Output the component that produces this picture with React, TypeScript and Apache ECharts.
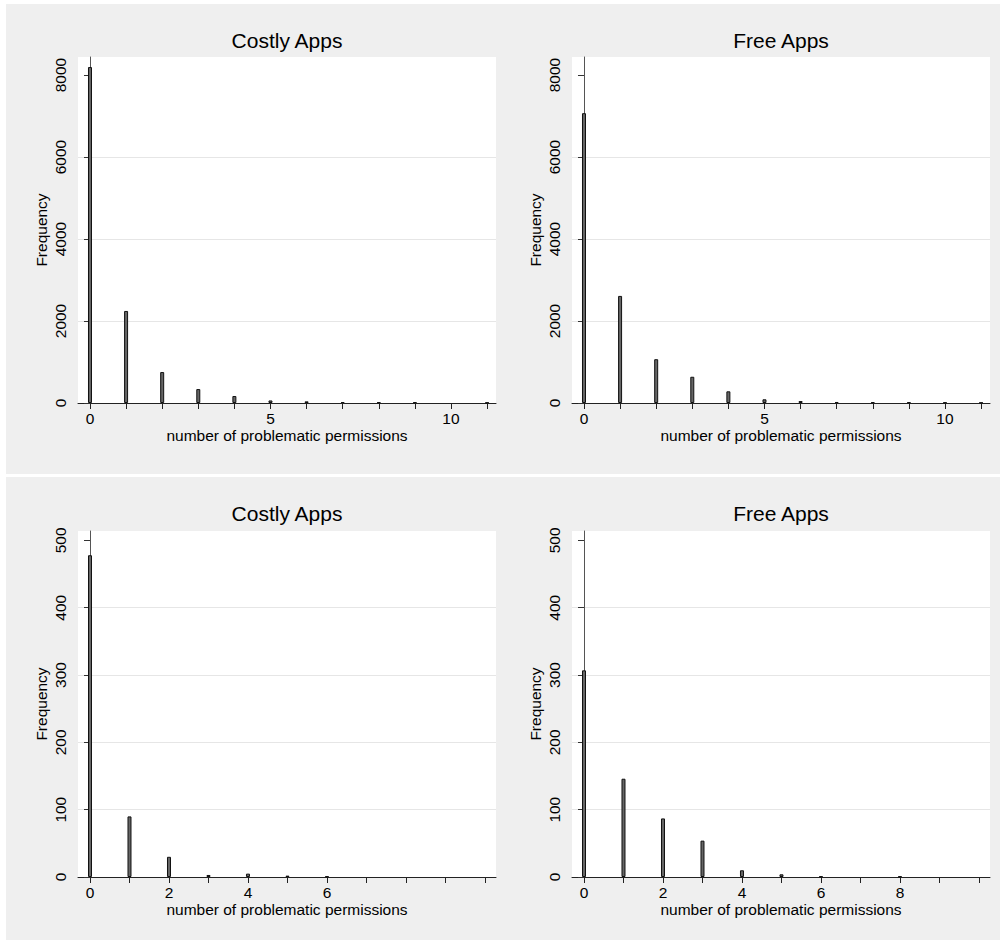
import React, { useEffect, useRef } from "react";
import * as echarts from "echarts";

// ---- data ----
const panelTitles = ["Costly Apps", "Free Apps", "Costly Apps", "Free Apps"];
const xAxisName = "number of problematic permissions";
const yAxisName = "Frequency";

const costlyAllX = [0, 1, 2, 3, 4, 5, 6, 7, 8, 9, 11];
const costlyAllY = [8195, 2245, 755, 340, 170, 62, 40, 24, 18, 18, 12];
const freeAllX = [0, 1, 2, 3, 4, 5, 6, 7, 8, 9, 10, 11];
const freeAllY = [7070, 2612, 1068, 640, 285, 90, 48, 25, 22, 18, 14, 10];
const costlySubX = [0, 1, 2, 3, 4, 5, 6];
const costlySubY = [478, 90, 30, 3, 5, 2, 1];
const freeSubX = [0, 1, 2, 3, 4, 5, 6, 8];
const freeSubY = [307, 146, 87, 54, 10, 4, 1, 1];

const topYTicks = [0, 2000, 4000, 6000, 8000];
const bottomYTicks = [0, 100, 200, 300, 400, 500];
const topXTicks = [0, 1, 2, 3, 4, 5, 6, 7, 8, 9, 10, 11];
const topXLabels = [0, 5, 10];
const bottomXTicks = [0, 1, 2, 3, 4, 5, 6, 7, 8, 9, 10];
const bottomLeftXLabels = [0, 2, 4, 6];
const bottomRightXLabels = [0, 2, 4, 6, 8];

const FONT = "'Liberation Sans', Arial, Helvetica, sans-serif";

export default function App() {
  const ref = useRef<HTMLDivElement>(null);

  useEffect(() => {
    if (!ref.current) return;
    const chart = echarts.init(ref.current, undefined, { renderer: "svg" });

    const panels = [
      { left: 78, top: 57, xs: costlyAllX, ys: costlyAllY, xmin: -0.332, xmax: 11.247, ymax: 8440, yTicks: topYTicks, xTicks: topXTicks, xLabels: topXLabels },
      { left: 572, top: 57, xs: freeAllX, ys: freeAllY, xmin: -0.332, xmax: 11.247, ymax: 8440, yTicks: topYTicks, xTicks: topXTicks, xLabels: topXLabels },
      { left: 78, top: 531, xs: costlySubX, ys: costlySubY, xmin: -0.304, xmax: 10.28, ymax: 514, yTicks: bottomYTicks, xTicks: bottomXTicks, xLabels: bottomLeftXLabels },
      { left: 572, top: 531, xs: freeSubX, ys: freeSubY, xmin: -0.304, xmax: 10.28, ymax: 514, yTicks: bottomYTicks, xTicks: bottomXTicks, xLabels: bottomRightXLabels },
    ];
    const W = 418;
    const H = 346;

    const grid = panels.map((p) => ({
      left: p.left,
      top: p.top,
      width: W,
      height: H,
      show: true,
      backgroundColor: "#ffffff",
      borderWidth: 0,
      containLabel: false,
    }));

    const xAxis = panels.map((p, i) => ({
      type: "value",
      gridIndex: i,
      min: p.xmin,
      max: p.xmax,
      name: xAxisName,
      nameLocation: "middle",
      nameGap: 24,
      nameTextStyle: { fontSize: 15.5, color: "#000", fontFamily: FONT },
      axisLine: { show: true, onZero: false, lineStyle: { color: "#222", width: 1 } },
      axisTick: { show: true, length: 6, inside: false, customValues: p.xTicks, lineStyle: { color: "#222" } },
      axisLabel: { show: true, customValues: p.xLabels, margin: 7, fontSize: 15.5, color: "#000", fontFamily: FONT, formatter: (v: number) => String(v) },
      splitLine: { show: false },
    }));

    const yAxis = panels.map((p, i) => ({
      type: "value",
      gridIndex: i,
      min: 0,
      max: p.ymax,
      interval: p.yTicks[1] - p.yTicks[0],
      name: yAxisName,
      nameLocation: "middle",
      nameGap: 29,
      nameTextStyle: { fontSize: 15.5, color: "#000", fontFamily: FONT },
      axisLine: { show: true, lineStyle: { color: "#555", width: 1 } },
      axisTick: { show: true, length: 6, customValues: p.yTicks, lineStyle: { color: "#333" } },
      axisLabel: { show: true, customValues: p.yTicks, rotate: 90, margin: 10, fontSize: 15.5, color: "#000", fontFamily: FONT, formatter: (v: number) => String(v) },
      splitLine: { show: true, showMinLine: false, showMaxLine: false, lineStyle: { color: "#e6e6e6", width: 1 } },
    }));

    const series = panels.map((p, i) => ({
      type: "bar",
      xAxisIndex: i,
      yAxisIndex: i,
      barWidth: 4,
      data: p.xs.map((x, k) => [x, p.ys[k]]),
      itemStyle: { color: "#666666", borderColor: "#111111", borderWidth: 1 },
      silent: true,
    }));

    const graphic: any[] = [
      { type: "rect", z: -100, shape: { x: 6, y: 4, width: 994, height: 470 }, style: { fill: "#efefef" }, silent: true },
      { type: "rect", z: -100, shape: { x: 6, y: 477, width: 994, height: 463 }, style: { fill: "#efefef" }, silent: true },
    ];
    const titleY = [40, 40, 513, 513];
    panels.forEach((p, i) => {
      graphic.push({
        type: "text",
        x: p.left + W / 2,
        y: titleY[i],
        z: 10,
        silent: true,
        style: {
          text: panelTitles[i],
          fill: "#000",
          fontSize: 21,
          fontFamily: FONT,
          align: "center",
          verticalAlign: "middle",
        },
      });
    });

    chart.setOption({
      animation: false,
      backgroundColor: "#ffffff",
      grid,
      xAxis,
      yAxis,
      series,
      graphic,
    } as any);

    return () => chart.dispose();
  }, []);

  return (
    <div
      ref={ref}
      style={{ position: "absolute", left: 0, top: 0, width: 1005, height: 941 }}
    />
  );
}
